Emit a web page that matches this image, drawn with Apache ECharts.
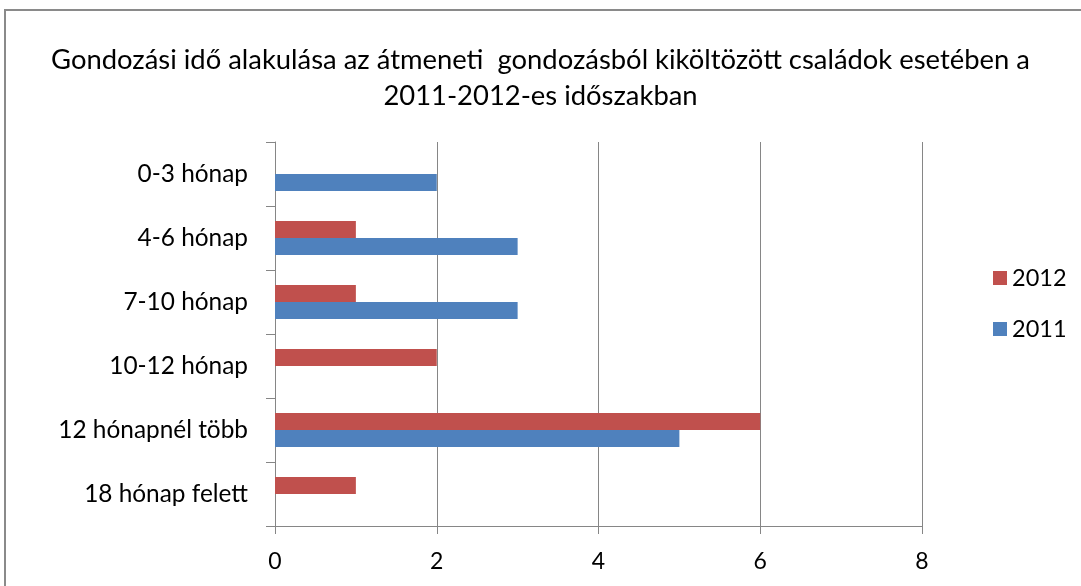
<!DOCTYPE html>
<html>
<head>
<meta charset="utf-8">
<script src="https://cdn.jsdelivr.net/npm/echarts@6/dist/echarts.min.js"></script>
<style>
  html, body { margin: 0; padding: 0; background: #fff; }
  #chart { width: 1081px; height: 586px; }
</style>
</head>
<body>
<div id="chart"></div>
<script>
var categories = ['0-3 hónap', '4-6 hónap', '7-10 hónap', '10-12 hónap', '12 hónapnél több', '18 hónap felett'];
var values2012 = [0, 1, 1, 2, 6, 1];
var values2011 = [2, 3, 3, 0, 5, 0];
var xTicks = { min: 0, max: 8, interval: 2 };

var font = 'Lato';
var chart = echarts.init(document.getElementById('chart'));

var option = {
  animation: false,
  textStyle: { fontFamily: font },
  title: {
    text: 'Gondozási idő alakulása az átmeneti  gondozásból kiköltözött családok esetében a\n2011-2012-es időszakban',
    left: 'center',
    top: 37,
    textStyle: { fontSize: 27.4, fontWeight: 'normal', color: '#000', lineHeight: 36, fontFamily: font }
  },
  graphic: [{
    type: 'rect',
    shape: { x: 5, y: 10, width: 1100, height: 600 },
    style: { fill: 'none', stroke: '#8a8a8a', lineWidth: 2 },
    silent: true
  }],
  legend: {
    orient: 'vertical',
    left: 988,
    top: 261,
    itemWidth: 14,
    itemHeight: 14,
    itemGap: 27,
    icon: 'rect',
    textStyle: { fontSize: 23.5, color: '#000', fontFamily: font },
    data: ['2012', '2011']
  },
  grid: { left: 275, top: 142, right: 159, bottom: 60 },
  xAxis: {
    type: 'value',
    min: xTicks.min,
    max: xTicks.max,
    interval: xTicks.interval,
    axisLine: { show: true, lineStyle: { color: '#868686' } },
    axisTick: { show: true, length: 8, lineStyle: { color: '#868686' } },
    axisLabel: { fontSize: 23, color: '#000', margin: 24 },
    splitLine: { show: true, lineStyle: { color: '#868686' } }
  },
  yAxis: {
    type: 'category',
    inverse: true,
    data: categories,
    axisLine: { show: true, lineStyle: { color: '#868686' } },
    axisTick: { show: true, length: 9, lineStyle: { color: '#868686' } },
    axisLabel: { fontSize: 24.4, color: '#000', margin: 27 }
  },
  series: [
    {
      name: '2012',
      type: 'bar',
      data: values2012,
      barWidth: 17,
      barGap: '0%',
      itemStyle: { color: '#C0504D' }
    },
    {
      name: '2011',
      type: 'bar',
      data: values2011,
      barWidth: 17,
      barGap: '0%',
      itemStyle: { color: '#4F81BD' }
    }
  ]
};

chart.setOption(option);
</script>
</body>
</html>
